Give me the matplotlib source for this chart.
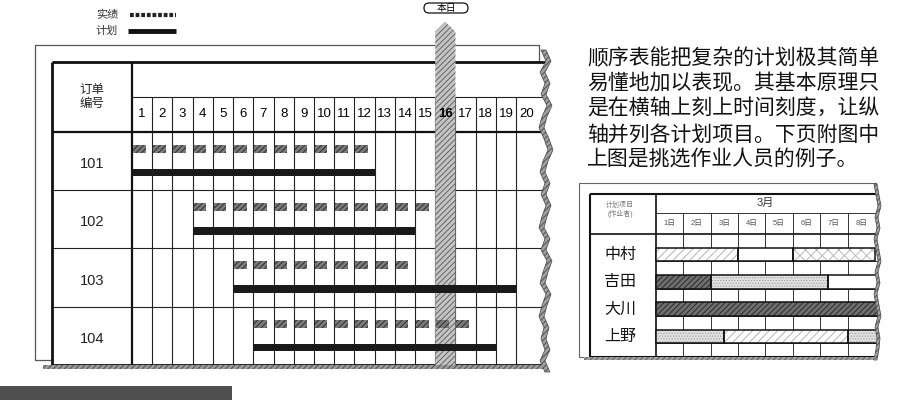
import numpy as np
import matplotlib
matplotlib.use('Agg')
import matplotlib.pyplot as plt
from matplotlib.patches import Polygon, Rectangle, FancyBboxPatch

plt.rcParams['font.family'] = ['Liberation Sans', 'Noto Sans CJK SC', 'DejaVu Sans']
plt.rcParams['hatch.linewidth'] = 0.6

# ---- data: big order chart ----
orders = ['101', '102', '103', '104']
day_labels = [str(d) for d in range(1, 21)]
act_start = [0, 3, 5, 6]
act_end = [12, 15, 14, 17]
plan_start = [0, 3, 5, 6]
plan_end = [12, 14, 19, 18]
today = 16

# ---- data: small staffing chart ----
workers = ['中村', '吉田', '大川', '上野']
small_days = ['1日', '2日', '3日', '4日', '5日', '6日', '7日', '8日']
month = '3月'
nakamura_segs = [(0, 3, 'diag'), (3, 5, 'blank'), (5, 8, 'cross')]
yoshida_segs = [(0, 2, 'dark'), (2, 6.3, 'dots'), (6.3, 8.3, 'blank')]
okawa_segs = [(0, 8.3, 'dark')]
ueno_segs = [(0, 2.5, 'dots'), (2.5, 7, 'diag'), (7, 8.3, 'dots')]

paragraph = ['顺序表能把复杂的计划极其简单',
             '易懂地加以表现。其基本原理只',
             '是在横轴上刻上时间刻度，让纵',
             '轴并列各计划项目。下页附图中',
             '上图是挑选作业人员的例子。']

W, H = 912, 400
fig = plt.figure(figsize=(9.12, 4.0), dpi=100)


def axes_px(x0, y0, x1, y1):
    return fig.add_axes([x0 / W, 1 - y1 / H, (x1 - x0) / W, (y1 - y0) / H])


bg = axes_px(0, 0, W, H)
bg.set_xlim(0, W)
bg.set_ylim(H, 0)
bg.axis('off')

# legend
bg.text(107, 15, '实绩', ha='center', va='center', fontsize=8, color='#333')
bg.text(107, 31, '计划', ha='center', va='center', fontsize=8, color='#333')
bg.plot([130, 176], [15, 15], color='#222', lw=3, ls=(0, (0.9, 0.45)), solid_capstyle='butt')
bg.plot([128, 176], [31, 31], color='#111', lw=3.5, solid_capstyle='butt')

# "today" tag
bg.add_patch(FancyBboxPatch((424, 3), 44, 10, boxstyle='round,pad=0,rounding_size=5',
                            fc='white', ec='#111', lw=0.9))
bg.text(446, 8.2, '本日', ha='center', va='center', fontsize=7)

# outer frames
bg.plot([52, 35, 35, 539, 539], [360, 360, 45, 45, 62], color='#555', lw=0.9)
bg.plot([590, 579, 579, 876], [357, 357, 183, 183], color='#666', lw=0.8)

# paragraph
for k, line in enumerate(paragraph):
    bg.text(587, 58 + 25.5 * k, line, fontsize=15, va='center', ha='left',
            family=['Noto Sans CJK SC'], color='#111')

bg.add_patch(Rectangle((0, 386), 232, 14, fc='#505050', lw=0))

# ---- big chart ----
ax = axes_px(52, 62, 546, 365)
x_lo, x_hi = -3.96, 20.48
ax.set_xlim(x_lo, x_hi)
ax.set_ylim(4, -1.2)
ax.axis('off')

ax.vlines(range(1, 20), -0.6, 4, color='#222', lw=0.8, zorder=1)
ax.vlines(0, -1.2, 4, color='#111', lw=1.6, zorder=1)
ax.hlines([1, 2, 3], x_lo, x_hi, color='#222', lw=0.8, zorder=1)
ax.hlines(0, x_lo, x_hi, color='#111', lw=1.6, zorder=1)
ax.hlines(-0.6, 0, x_hi, color='#222', lw=0.8, zorder=1)
ax.hlines([-1.2, 4], x_lo, x_hi, color='#111', lw=2, zorder=1, clip_on=False)
ax.vlines(x_lo, -1.2, 4, color='#111', lw=2, zorder=1, clip_on=False)

# today column with pointer
ax.add_patch(Polygon([(today - 1, 4), (today - 1, -1.72), (today - 0.5, -1.89),
                      (today, -1.72), (today, 4)], closed=True, fc='#c4c4c4',
                     ec='#555', hatch='//////', lw=0, clip_on=False, zorder=2))

for d, lab in enumerate(day_labels, start=1):
    ax.text(d - 0.5, -0.3, lab, ha='center', va='center', fontsize=9.5,
            fontweight='bold' if d == today else 'normal', zorder=4)

ax.text(-1.98, -0.6, '订单\n编号', ha='center', va='center', fontsize=9,
        linespacing=1.25, color='#222')
for i, o in enumerate(orders):
    ax.text(-1.98, i + 0.55, o, ha='center', va='center', fontsize=10.5, color='#222')

for i, (s, e) in enumerate(zip(act_start, act_end)):
    segs = [(x, min(0.62, e - x)) for x in np.arange(s + 0.05, e, 1.0)]
    ax.broken_barh(segs, (i + 0.29 - 0.07, 0.14), facecolor='#7a7a7a',
                   edgecolor='#222', hatch='//////', lw=0, zorder=3)

ax.barh([i + 0.70 for i in range(len(orders))],
        [e - s for s, e in zip(plan_start, plan_end)], left=plan_start,
        height=0.13, color='#1a1a1a', zorder=3)

# ---- small chart ----
ax2 = axes_px(590, 194, 882, 357)
sx_lo, sx_hi = -2.41, 8.26
ax2.set_xlim(sx_lo, sx_hi)
ax2.set_ylim(9, -2.93)
ax2.axis('off')

ax2.vlines(range(1, 8), -1.54, 9, color='#333', lw=0.7, zorder=1)
ax2.vlines(0, -2.93, 9, color='#111', lw=1.2, zorder=1)
ax2.hlines(range(1, 9), 0, sx_hi, color='#333', lw=0.7, zorder=1)
ax2.hlines(0, sx_lo, sx_hi, color='#111', lw=1.2, zorder=1)
ax2.hlines(-1.54, 0, sx_hi, color='#333', lw=0.7, zorder=1)
ax2.hlines([-2.93, 9], sx_lo, sx_hi, color='#111', lw=1.5, clip_on=False, zorder=1)
ax2.vlines(sx_lo, -2.93, 9, color='#111', lw=1.5, clip_on=False, zorder=1)

ax2.text(4, -2.25, month, ha='center', va='center', fontsize=8, color='#333')
for d, lab in enumerate(small_days):
    ax2.text(d + 0.5, -0.77, lab, ha='center', va='center', fontsize=5.5, color='#555')
ax2.text(-1.31, -1.76, '计划项目\n(作业者)', ha='center', va='center', fontsize=5,
         color='#777', linespacing=1.2)

styles = {
    'diag': dict(fc='white', hatch='////', hc='#a8a8a8'),
    'cross': dict(fc='white', hatch='xxx', hc='#b0b0b0'),
    'dark': dict(fc='#6e6e6e', hatch='//////', hc='#222'),
    'dots': dict(fc='#e2e2e2', hatch='......', hc='#a0a0a0'),
    'blank': dict(fc='white', hatch=None, hc='white'),
}
for k, segs in enumerate([nakamura_segs, yoshida_segs, okawa_segs, ueno_segs]):
    ax2.text(-1.31, 2 * k + 1.5, workers[k], ha='center', va='center', fontsize=11.5,
             color='#111')
    for s, e, st in segs:
        sty = styles[st]
        ax2.broken_barh([(s, e - s)], (2 * k + 1, 1), facecolor=sty['fc'],
                        edgecolor=sty['hc'], hatch=sty['hatch'], lw=0, zorder=2)
        ax2.broken_barh([(s, e - s)], (2 * k + 1, 1), facecolor='none',
                        edgecolor='#111', lw=1.1, zorder=3)

# ---- torn edges and shadows (drawn on top) ----
fg = axes_px(0, 0, W, H)
fg.set_xlim(0, W)
fg.set_ylim(H, 0)
fg.axis('off')


def torn_edge(x0, y0, y1, jags, width=5):
    ys = np.linspace(y0, y1, len(jags))
    xs = x0 + np.array(jags, dtype=float)
    fg.add_patch(Polygon(list(zip(xs, ys)) + [(x0 + 30, y1), (x0 + 30, y0)],
                         closed=True, fc='white', lw=0))
    fg.add_patch(Polygon(list(zip(xs, ys)) + list(zip(xs[::-1] + width, ys[::-1])),
                         closed=True, fc='#a0a0a0', ec='#444', hatch='//////', lw=0.5))


torn_edge(539, 50, 372, [2, 7, 1, 6, 2, 8, 3, 0, 5, 9, 4, 1, 6, 2, 7, 3, 0, 6, 2, 8, 4, 1, 7, 3, 0, 5, 2, 6, 1, 6])
fg.add_patch(Rectangle((43, 365), 500, 4, fc='#9a9a9a', ec='#444', hatch='//////', lw=0))

torn_edge(874, 184, 360, [0, 2, 4, 1, 3, 0, 2, 4, 1, 3, 0, 2, 4, 1, 3, 2, 0], width=3)
fg.add_patch(Rectangle((584, 357), 292, 3, fc='#a0a0a0', ec='#555', hatch='//////', lw=0))

fig.savefig('out.png', dpi=100)
